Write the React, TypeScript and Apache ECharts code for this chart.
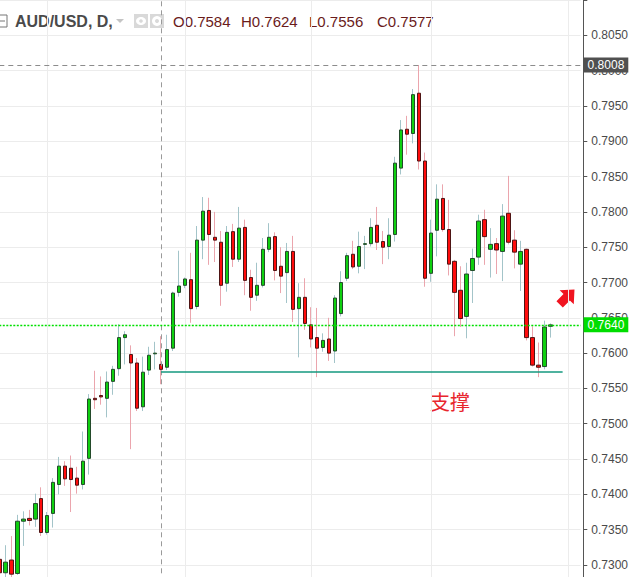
import React, { useEffect, useRef } from "react";
import * as echarts from "echarts";

// Daily AUD/USD candles
const opens = [
  0.7308, 0.7289, 0.7307, 0.7288, 0.7362, 0.7366, 0.7365, 0.7394, 0.7346, 0.7373,
  0.7414, 0.7440, 0.7437, 0.7423, 0.7414, 0.7451, 0.7536, 0.7540, 0.7536, 0.7560,
  0.7578, 0.7622, 0.7598, 0.7586, 0.7524, 0.7576, 0.7599, 0.7584, 0.7580, 0.7607,
  0.7686, 0.7696, 0.7704, 0.7666, 0.7760, 0.7802, 0.7764, 0.7757, 0.7699, 0.7772,
  0.7733, 0.7778, 0.7707, 0.7682, 0.7696, 0.7747, 0.7765, 0.7723, 0.7714, 0.7744,
  0.7663, 0.7679, 0.7640, 0.7622, 0.7608, 0.7620, 0.7603, 0.7656, 0.7706, 0.7740,
  0.7723, 0.7754, 0.7755, 0.7781, 0.7758, 0.7751, 0.7768, 0.7862, 0.7917, 0.7911,
  0.7968, 0.7872, 0.7713, 0.7774, 0.7819, 0.7775, 0.7730, 0.7689, 0.7652, 0.7717,
  0.7736, 0.7789, 0.7747, 0.7755, 0.7744, 0.7798, 0.7760, 0.7726, 0.7747, 0.7622,
  0.7583, 0.7581, 0.7638,
];
const closes = [
  0.7289, 0.7304, 0.7287, 0.7362, 0.7365, 0.7363, 0.7387, 0.7346, 0.7370, 0.7417,
  0.7440, 0.7422, 0.7421, 0.7413, 0.7447, 0.7535, 0.7534, 0.7538, 0.7559, 0.7577,
  0.7622, 0.7626, 0.7586, 0.7522, 0.7573, 0.7597, 0.7600, 0.7577, 0.7605, 0.7685,
  0.7695, 0.7705, 0.7663, 0.7760, 0.7801, 0.7768, 0.7760, 0.7696, 0.7771, 0.7733,
  0.7777, 0.7703, 0.7679, 0.7696, 0.7747, 0.7764, 0.7717, 0.7709, 0.7744, 0.7662,
  0.7679, 0.7642, 0.7620, 0.7607, 0.7618, 0.7600, 0.7678, 0.7700, 0.7738, 0.7722,
  0.7751, 0.7755, 0.7778, 0.7757, 0.7750, 0.7767, 0.7869, 0.7916, 0.7910, 0.7966,
  0.7872, 0.7706, 0.7770, 0.7818, 0.7775, 0.7726, 0.7686, 0.7649, 0.7712, 0.7734,
  0.7787, 0.7765, 0.7754, 0.7746, 0.7794, 0.7757, 0.7743, 0.7744, 0.7622, 0.7583,
  0.7580, 0.7637, 0.7640,
];
const highs = [
  0.7313, 0.7328, 0.7341, 0.7371, 0.7376, 0.7378, 0.7401, 0.7410, 0.7375, 0.7423,
  0.7453, 0.7447, 0.7455, 0.7439, 0.7489, 0.7542, 0.7575, 0.7567, 0.7574, 0.7582,
  0.7641, 0.7631, 0.7611, 0.7593, 0.7595, 0.7609, 0.7616, 0.7624, 0.7626, 0.7687,
  0.7745, 0.7707, 0.7742, 0.7780, 0.7821, 0.7820, 0.7800, 0.7773, 0.7780, 0.7783,
  0.7807, 0.7789, 0.7718, 0.7728, 0.7763, 0.7784, 0.7771, 0.7750, 0.7756, 0.7766,
  0.7699, 0.7706, 0.7665, 0.7664, 0.7628, 0.7650, 0.7682, 0.7716, 0.7742, 0.7759,
  0.7772, 0.7766, 0.7791, 0.7807, 0.7773, 0.7791, 0.7878, 0.7930, 0.7936, 0.7974,
  0.8008, 0.7884, 0.7789, 0.7839, 0.7839, 0.7817, 0.7732, 0.7723, 0.7728, 0.7748,
  0.7796, 0.7803, 0.7777, 0.7763, 0.7811, 0.7851, 0.7774, 0.7759, 0.7748, 0.7638,
  0.7615, 0.7646, 0.7642,
];
const lows = [
  0.7284, 0.7283, 0.7283, 0.7286, 0.7327, 0.7356, 0.7354, 0.7341, 0.7343, 0.7353,
  0.7400, 0.7412, 0.7375, 0.7401, 0.7407, 0.7428, 0.7521, 0.7527, 0.7509, 0.7541,
  0.7568, 0.7584, 0.7464, 0.7518, 0.7518, 0.7569, 0.7577, 0.7556, 0.7576, 0.7603,
  0.7680, 0.7692, 0.7643, 0.7662, 0.7733, 0.7725, 0.7729, 0.7667, 0.7687, 0.7722,
  0.7729, 0.7682, 0.7660, 0.7674, 0.7693, 0.7743, 0.7703, 0.7685, 0.7671, 0.7644,
  0.7594, 0.7633, 0.7608, 0.7566, 0.7602, 0.7589, 0.7586, 0.7652, 0.7702, 0.7719,
  0.7713, 0.7719, 0.7751, 0.7746, 0.7726, 0.7733, 0.7758, 0.7853, 0.7881, 0.7897,
  0.7860, 0.7694, 0.7701, 0.7737, 0.7772, 0.7710, 0.7624, 0.7637, 0.7621, 0.7671,
  0.7725, 0.7725, 0.7707, 0.7712, 0.7702, 0.7754, 0.7720, 0.7688, 0.7618, 0.7581,
  0.7566, 0.7577, 0.7622,
];

// 98 daily slots (93 with candles, the rest empty space on the right)
const days = Array.from({ length: 98 }, (_, i) => `Day ${i + 1}`);
const monthStarts = [8, 31, 52, 72, 95];

const SUPPORT = 0.7573;
const SUPPORT_FROM = 27;
const SUPPORT_TO = 94;
const CROSS_INDEX = 27;
const CROSS_PRICE = 0.8008;
const LAST_PRICE = closes[closes.length - 1];

const FONT = "'Liberation Sans', Arial, sans-serif";

// The chart canvas is larger than the window so that the plot can run past its edges
const OFF_X = 10;
const OFF_Y = 40;

export default function App() {
  const ref = useRef<HTMLDivElement>(null);

  useEffect(() => {
    const chart = echarts.init(ref.current!, null, { renderer: "svg" });
    const wickData = opens.map((o, i) => [o, closes[i], lows[i], highs[i]]);
    const bodyData = opens.map((o, i) => [
      o,
      closes[i],
      Math.min(o, closes[i]),
      Math.max(o, closes[i]),
    ]);

    const boxLabel = (bg: string) => ({
      show: true,
      position: "end",
      distance: 3,
      formatter: (p: any) => Number(p.value).toFixed(4),
      color: "#ffffff",
      backgroundColor: bg,
      padding: [2, 4, 1, 4],
      fontSize: 12,
      fontFamily: FONT,
    });

    const ohlc = [
      ["O", opens[CROSS_INDEX], 173],
      ["H", highs[CROSS_INDEX], 241],
      ["L", lows[CROSS_INDEX], 309],
      ["C", closes[CROSS_INDEX], 377],
    ] as [string, number, number][];

    chart.setOption({
      animation: false,
      backgroundColor: "#ffffff",
      grid: { left: 9.3, right: 48.7, top: 4.7, bottom: 6.7 },
      xAxis: {
        type: "category",
        data: days,
        boundaryGap: false,
        axisLine: { show: false },
        axisTick: { show: false },
        axisLabel: { show: false },
        splitLine: {
          show: true,
          interval: (idx: number) => monthStarts.includes(idx),
          lineStyle: { color: "#ececec", width: 1 },
        },
      },
      yAxis: {
        type: "value",
        position: "right",
        offset: 2.7,
        min: 0.725,
        max: 0.815,
        interval: 0.005,
        axisLine: { show: true, lineStyle: { color: "#555555", width: 1 } },
        axisTick: { show: true, length: 4, lineStyle: { color: "#555555" } },
        axisLabel: {
          margin: 8,
          color: "#4a4a4a",
          fontSize: 12,
          fontFamily: FONT,
          formatter: (v: number) => (v > 0.806 || v < 0.7275 ? "" : v.toFixed(4)),
        },
        splitLine: { show: true, lineStyle: { color: "#ececec", width: 1 } },
      },
      series: [
        {
          name: "wicks",
          type: "candlestick",
          data: wickData,
          barWidth: 1,
          itemStyle: {
            color: "#a3c4c9",
            color0: "#eba5ad",
            borderColor: "#a3c4c9",
            borderColor0: "#eba5ad",
            borderWidth: 1,
          },
          silent: true,
        },
        {
          name: "bodies",
          type: "candlestick",
          data: bodyData,
          barWidth: 4,
          itemStyle: {
            color: "#0fd00f",
            color0: "#ff0c0c",
            borderColor: "#234a2a",
            borderColor0: "#4d1414",
            borderWidth: 1,
          },
          silent: true,
          markLine: {
            silent: true,
            precision: 4,
            z: 10,
            symbol: ["none", "none"],
            data: [
              {
                xAxis: days[CROSS_INDEX],
                lineStyle: { color: "#9a9a9a", type: [5, 4], width: 1 },
                label: { show: false },
              },
              [
                {
                  coord: [days[SUPPORT_FROM], SUPPORT],
                  lineStyle: { color: "#14997f", type: "solid", width: 1.5 },
                  label: { show: false },
                },
                {
                  coord: [days[SUPPORT_TO], SUPPORT],
                  lineStyle: { color: "#14997f", type: "solid", width: 1.5 },
                  label: { show: false },
                },
              ],
              {
                yAxis: CROSS_PRICE,
                lineStyle: { color: "#8c8c8c", type: [5, 4], width: 1 },
                label: boxLabel("#505050"),
              },
              {
                yAxis: LAST_PRICE,
                lineStyle: { color: "#00e000", type: [2, 1.5], width: 1.3, opacity: 1 },
                label: boxLabel("#00dd00"),
              },
            ],
          },
        },
      ],
      graphic: [
        {
          type: "group",
          x: OFF_X,
          y: OFF_Y,
          children: [
            {
              type: "rect",
              shape: { x: -3, y: 15, width: 10, height: 12 },
              style: { fill: "none", stroke: "#777777", lineWidth: 1 },
            },
            {
              type: "line",
              shape: { x1: 0, y1: 21, x2: 5, y2: 21 },
              style: { stroke: "#777777", lineWidth: 1 },
            },
            {
              type: "text",
              x: 15,
              y: 21,
              style: {
                text: "AUD/USD, D,",
                fontSize: 16,
                fontWeight: "bold",
                fill: "#4a4a4a",
                fontFamily: FONT,
                verticalAlign: "middle",
              },
            },
            {
              type: "polygon",
              shape: { points: [[116, 19], [124, 19], [120, 23]] },
              style: { fill: "#c4c4c4" },
            },
            {
              type: "rect",
              shape: { x: 134, y: 14, width: 14, height: 14 },
              style: { fill: "#d9d9d9" },
            },
            {
              type: "ellipse",
              shape: { cx: 141, cy: 21, rx: 5, ry: 4 },
              style: { fill: "#ffffff" },
            },
            {
              type: "circle",
              shape: { cx: 141, cy: 21, r: 1.8 },
              style: { fill: "#d9d9d9" },
            },
            {
              type: "rect",
              shape: { x: 150, y: 14, width: 14, height: 14 },
              style: { fill: "#d9d9d9" },
            },
            {
              type: "circle",
              shape: { cx: 157, cy: 21, r: 5 },
              style: { fill: "#ffffff" },
            },
            {
              type: "circle",
              shape: { cx: 157, cy: 21, r: 2 },
              style: { fill: "#d9d9d9" },
            },
            ...ohlc.map(([k, v, x]) => ({
              type: "text",
              x,
              y: 21,
              style: {
                text: `${k}${v.toFixed(4)}`,
                fontSize: 15,
                fill: "#6a1b1b",
                fontFamily: FONT,
                verticalAlign: "middle",
              },
            })),
            {
              type: "polygon",
              x: 566,
              y: 298,
              rotation: -Math.PI / 4,
              shape: {
                points: [[0, -12], [10, -1], [4.5, -1], [4.5, 9], [-4.5, 9], [-4.5, -1], [-10, -1]],
              },
              style: { fill: "#f01420" },
            },
            {
              type: "text",
              x: 430,
              y: 401,
              style: {
                text: "支撑",
                fontSize: 20,
                fill: "#e8262d",
                fontFamily: "'Noto Sans CJK SC', sans-serif",
                verticalAlign: "middle",
              },
            },
          ],
        },
      ],
    });

    return () => chart.dispose();
  }, []);

  return (
    <div
      ref={ref}
      style={{
        position: "fixed",
        left: -OFF_X,
        top: -OFF_Y,
        width: 631 + OFF_X,
        height: 577 + OFF_Y + 30,
        background: "#fff",
      }}
    />
  );
}
